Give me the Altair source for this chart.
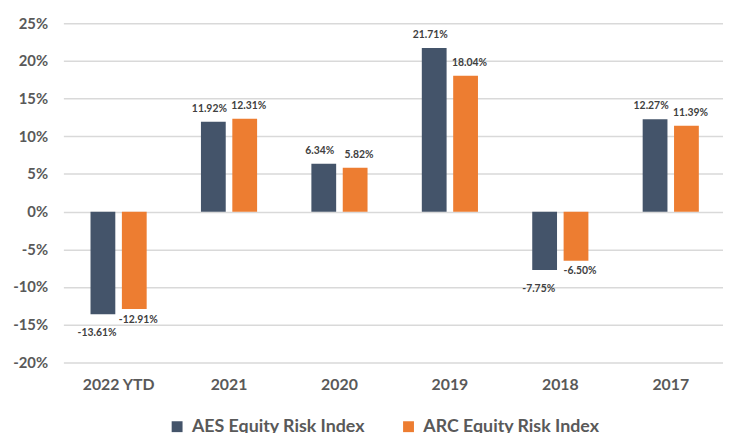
import altair as alt
import pandas as pd

categories = ["2022 YTD", "2021", "2020", "2019", "2018", "2017"]
aes_values = [-13.61, 11.92, 6.34, 21.71, -7.75, 12.27]
arc_values = [-12.91, 12.31, 5.82, 18.04, -6.50, 11.39]
series_names = ["AES Equity Risk Index", "ARC Equity Risk Index"]
series_colors = ["#44546A", "#ED7D31"]
y_ticks = [-20, -15, -10, -5, 0, 5, 10, 15, 20, 25]

rows = []
for c, a, r in zip(categories, aes_values, arc_values):
    rows.append({"cat": c, "series": series_names[0], "value": a})
    rows.append({"cat": c, "series": series_names[1], "value": r})
df = pd.DataFrame(rows)

FONT = "Lato"
GRAY = "#595959"

x_enc = alt.X(
    "cat:N", sort=categories,
    scale=alt.Scale(range=[0, 670], paddingInner=0, paddingOuter=0),
    axis=alt.Axis(title=None, labelAngle=0, domain=False, ticks=False, grid=False,
                  labelPadding=14, labelFont=FONT, labelFontSize=16,
                  labelFontWeight="bold", labelColor=GRAY),
)
xoff = alt.XOffset("series:N", sort=series_names,
                   scale=alt.Scale(paddingInner=0.21, paddingOuter=0.865))
y_scale = alt.Scale(domain=[-20, 25], nice=False, zero=False)
y_axis = alt.Axis(title=None, values=y_ticks, labelExpr="datum.value + '%'",
                  grid=True, gridColor="#D9D9D9", gridWidth=1.5,
                  domain=False, ticks=False, labelPadding=16, labelOverlap=False,
                  labelFont=FONT, labelFontSize=15, labelFontWeight="bold",
                  labelColor=GRAY)
y_enc = alt.Y("value:Q", scale=y_scale, axis=y_axis)
color_enc = alt.Color(
    "series:N", sort=series_names,
    scale=alt.Scale(domain=series_names, range=series_colors),
    legend=alt.Legend(title=None, orient="none", direction="horizontal",
                      legendX=106, legendY=399, symbolType="square",
                      symbolSize=121, symbolStrokeWidth=0, labelFont=FONT,
                      labelFontSize=18, labelFontWeight="bold", labelColor=GRAY,
                      labelOffset=6, columnPadding=35, labelLimit=400),
)

base = alt.Chart(df)
bars = base.mark_bar().encode(x=x_enc, xOffset=xoff, y=y_enc, color=color_enc)

label_expr = "(datum.value < 0 ? '-' : '') + format(abs(datum.value), '.2f') + '%'"


def labels(series, positive, dx, dy):
    cond = "datum.value >= 0" if positive else "datum.value < 0"
    return base.transform_filter(f"datum.series == '{series}' && {cond}").transform_calculate(
        lbl=label_expr
    ).mark_text(baseline="middle", dy=dy, dx=dx, font=FONT,
                fontSize=10.5, fontWeight="bold", color="#404040").encode(
        x=x_enc, xOffset=xoff, y=y_enc, text="lbl:N")


label_layers = [
    labels(series_names[0], True, -4, -13), labels(series_names[1], True, 4, -13),
    labels(series_names[0], False, -6, 19), labels(series_names[1], False, 4, 11),
]

chart = alt.layer(bars, *label_layers).properties(
    width=667, height=343,
    background="white",
    autosize=alt.AutoSizeParams(type="none"),
    padding={"left": 56, "top": 13, "right": 0, "bottom": 69},
).configure_view(stroke="transparent", strokeWidth=0)

chart.save("out.html", embed_options={"renderer": "svg", "actions": False})
